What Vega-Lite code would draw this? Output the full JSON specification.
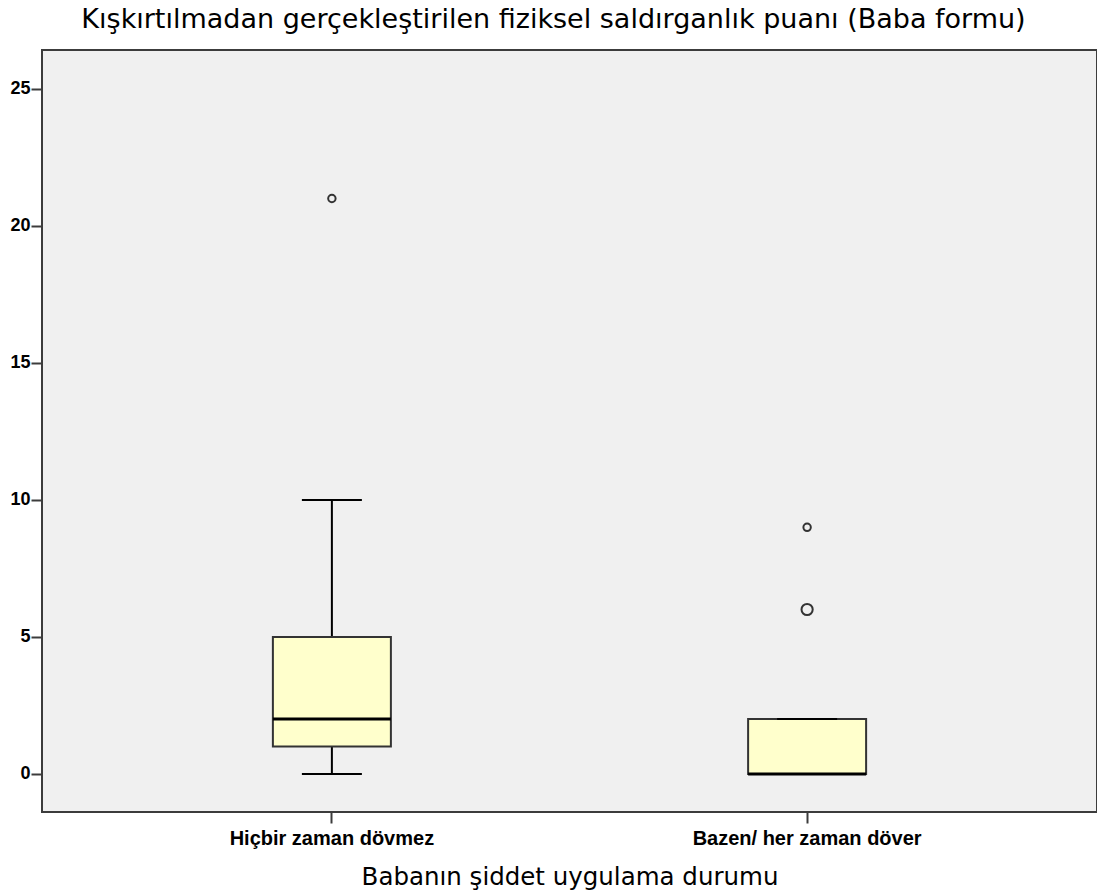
{
  "$schema": "https://vega.github.io/schema/vega-lite/v6.json",
  "width": 1055,
  "height": 762,
  "autosize": {"type": "none"},
  "padding": {"left": 42, "top": 50, "right": 0, "bottom": 83},
  "background": "white",
  "config": {
    "view": {"fill": "#f0f0f0", "stroke": "#3c3c3c", "strokeWidth": 2},
    "font": "Liberation Sans"
  },
  "title": {
    "text": "Kışkırtılmadan gerçekleştirilen fiziksel saldırganlık puanı (Baba formu)",
    "font": "DejaVu Sans",
    "fontSize": 27,
    "fontWeight": "normal",
    "color": "#000000",
    "anchor": "middle",
    "dx": -16,
    "offset": 16
  },
  "datasets": {
    "stats": [
      {"grup": "Hiçbir zaman dövmez", "min": 0, "q1": 1, "median": 2, "q3": 5, "max": 10},
      {"grup": "Bazen/ her zaman döver", "min": 0, "q1": 0, "median": 0, "q3": 2, "max": 2}
    ],
    "outliers": [
      {"grup": "Hiçbir zaman dövmez", "puan": 21, "n": 1},
      {"grup": "Bazen/ her zaman döver", "puan": 9, "n": 1},
      {"grup": "Bazen/ her zaman döver", "puan": 6, "n": 2}
    ]
  },
  "encoding": {
    "x": {
      "field": "grup",
      "type": "nominal",
      "sort": ["Hiçbir zaman dövmez", "Bazen/ her zaman döver"],
      "scale": {"paddingInner": 0, "paddingOuter": 0.11},
      "axis": {
        "title": "Babanın şiddet uygulama durumu",
        "titleFont": "DejaVu Sans",
        "titleFontSize": 24.5,
        "titleFontWeight": "normal",
        "titleColor": "#000000",
        "titlePadding": 17,
        "labelFont": "Liberation Sans",
        "labelFontSize": 20,
        "labelFontWeight": "bold",
        "labelColor": "#000000",
        "labelAngle": 0,
        "labelPadding": 5,
        "labelLimit": 0,
        "tickSize": 11,
        "tickColor": "#3c3c3c",
        "tickWidth": 2,
        "domain": false
      }
    }
  },
  "layer": [
    {
      "data": {"name": "stats"},
      "mark": {"type": "rule", "color": "#000000", "strokeWidth": 2, "opacity": 1},
      "encoding": {
        "y": {
          "field": "min",
          "type": "quantitative",
          "scale": {"domain": [-1.39, 26.42], "nice": false, "zero": false},
          "axis": {
            "title": null,
            "values": [0, 5, 10, 15, 20, 25],
            "grid": false,
            "domain": false,
            "tickSize": 11,
            "tickColor": "#3c3c3c",
            "tickWidth": 2,
            "labelFont": "Liberation Sans",
            "labelFontSize": 18,
            "labelFontWeight": "bold",
            "labelColor": "#000000",
            "labelPadding": 1
          }
        },
        "y2": {"field": "max"}
      }
    },
    {
      "data": {"name": "stats"},
      "mark": {"type": "bar", "width": 118, "fill": "#ffffcc", "stroke": "#333333", "strokeWidth": 2, "opacity": 1},
      "encoding": {
        "y": {"field": "q1", "type": "quantitative"},
        "y2": {"field": "q3"}
      }
    },
    {
      "data": {"name": "stats"},
      "mark": {"type": "tick", "size": 60, "thickness": 2, "color": "#000000", "orient": "horizontal", "opacity": 1},
      "encoding": {"y": {"field": "min", "type": "quantitative"}}
    },
    {
      "data": {"name": "stats"},
      "mark": {"type": "tick", "size": 60, "thickness": 2, "color": "#000000", "orient": "horizontal", "opacity": 1},
      "encoding": {"y": {"field": "max", "type": "quantitative"}}
    },
    {
      "data": {"name": "stats"},
      "mark": {"type": "tick", "size": 118, "thickness": 3, "color": "#000000", "orient": "horizontal", "opacity": 1},
      "encoding": {"y": {"field": "median", "type": "quantitative"}}
    },
    {
      "data": {"name": "outliers"},
      "mark": {"type": "point", "filled": false, "stroke": "#333333", "strokeWidth": 2, "opacity": 1},
      "encoding": {
        "y": {"field": "puan", "type": "quantitative"},
        "size": {"field": "n", "type": "quantitative", "scale": {"domain": [1, 2], "range": [55, 125]}, "legend": null}
      }
    }
  ]
}
